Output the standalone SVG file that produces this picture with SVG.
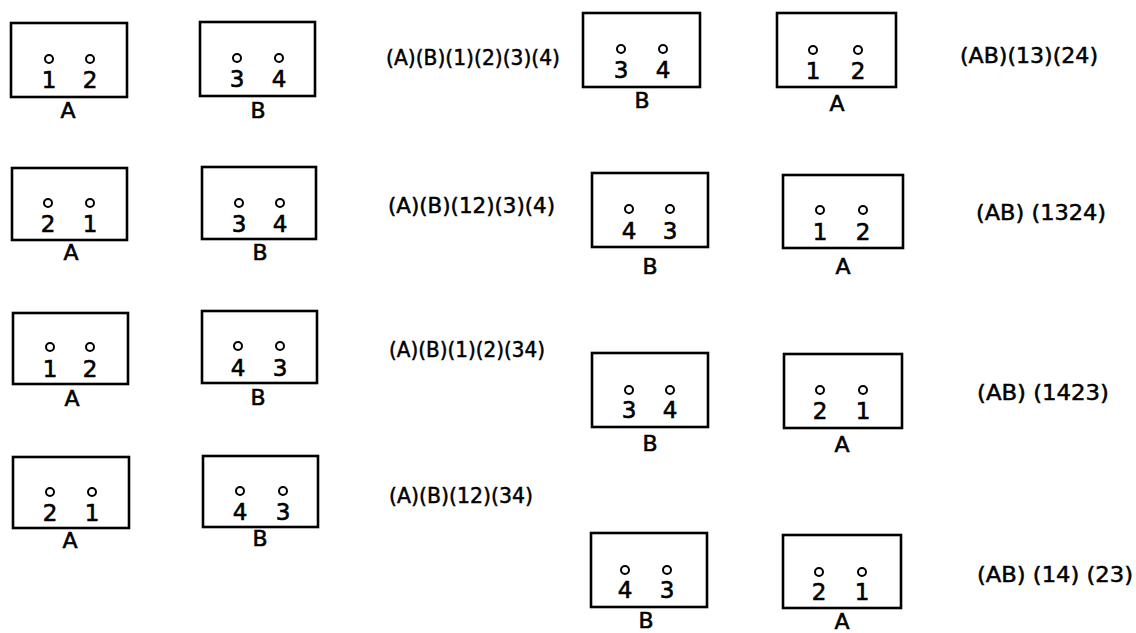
<svg xmlns="http://www.w3.org/2000/svg" width="1136" height="633" viewBox="0 0 1136 633">
<style>
.box{fill:none;stroke:#000;stroke-width:2.6}
.pin{fill:#fff;stroke:#000;stroke-width:2}
.num{font-family:"DejaVu Sans",sans-serif;font-size:23px;text-anchor:middle;fill:#000;stroke:#000;stroke-width:0.6}
.lbl{font-family:"DejaVu Sans",sans-serif;font-size:22px;text-anchor:middle;fill:#000;stroke:#000;stroke-width:0.6}
.fml{font-family:"DejaVu Sans",sans-serif;font-size:21px;fill:#000;stroke:#000;stroke-width:0.5}
</style>
<rect width="1136" height="633" fill="#fff"/>
<g id="r1A"><rect class="box" x="11" y="23" width="116" height="74"/><circle class="pin" cx="49" cy="59" r="4"/><circle class="pin" cx="90" cy="59" r="4"/><text class="num" x="49" y="88">1</text><text class="num" x="90" y="88">2</text><text class="lbl" x="68" y="118">A</text></g>
<g id="r1B"><rect class="box" x="200" y="22" width="115" height="74"/><circle class="pin" cx="237" cy="58" r="4"/><circle class="pin" cx="279" cy="58" r="4"/><text class="num" x="237" y="87">3</text><text class="num" x="279" y="87">4</text><text class="lbl" x="258" y="118">B</text></g>
<g id="r2A"><rect class="box" x="12" y="168" width="115" height="72"/><circle class="pin" cx="48" cy="203" r="4"/><circle class="pin" cx="90" cy="203" r="4"/><text class="num" x="48" y="232">2</text><text class="num" x="90" y="232">1</text><text class="lbl" x="71" y="260">A</text></g>
<g id="r2B"><rect class="box" x="202" y="167" width="114" height="72"/><circle class="pin" cx="239" cy="203" r="4"/><circle class="pin" cx="280" cy="203" r="4"/><text class="num" x="239" y="232">3</text><text class="num" x="280" y="232">4</text><text class="lbl" x="260" y="260">B</text></g>
<g id="r3A"><rect class="box" x="13" y="313" width="115" height="71"/><circle class="pin" cx="50" cy="347" r="4"/><circle class="pin" cx="90" cy="347" r="4"/><text class="num" x="50" y="377">1</text><text class="num" x="90" y="377">2</text><text class="lbl" x="72" y="406">A</text></g>
<g id="r3B"><rect class="box" x="202" y="311" width="115" height="72"/><circle class="pin" cx="238" cy="346" r="4"/><circle class="pin" cx="280" cy="346" r="4"/><text class="num" x="238" y="376">4</text><text class="num" x="280" y="376">3</text><text class="lbl" x="258" y="405">B</text></g>
<g id="r4A"><rect class="box" x="13" y="457" width="116" height="71"/><circle class="pin" cx="50" cy="492" r="4"/><circle class="pin" cx="92" cy="492" r="4"/><text class="num" x="50" y="521">2</text><text class="num" x="92" y="521">1</text><text class="lbl" x="70" y="548">A</text></g>
<g id="r4B"><rect class="box" x="203" y="456" width="115" height="71"/><circle class="pin" cx="240" cy="491" r="4"/><circle class="pin" cx="283" cy="491" r="4"/><text class="num" x="240" y="520">4</text><text class="num" x="283" y="520">3</text><text class="lbl" x="260" y="546">B</text></g>
<g id="R1B"><rect class="box" x="583" y="13" width="117" height="74"/><circle class="pin" cx="621" cy="49" r="4"/><circle class="pin" cx="663" cy="49" r="4"/><text class="num" x="621" y="78">3</text><text class="num" x="663" y="78">4</text><text class="lbl" x="642" y="108">B</text></g>
<g id="R1A"><rect class="box" x="777" y="13" width="119" height="74"/><circle class="pin" cx="813" cy="50" r="4"/><circle class="pin" cx="858" cy="50" r="4"/><text class="num" x="813" y="79">1</text><text class="num" x="858" y="79">2</text><text class="lbl" x="837" y="111">A</text></g>
<g id="R2B"><rect class="box" x="592" y="173" width="116" height="74"/><circle class="pin" cx="629" cy="209" r="4"/><circle class="pin" cx="670" cy="209" r="4"/><text class="num" x="629" y="239">4</text><text class="num" x="670" y="239">3</text><text class="lbl" x="650" y="274">B</text></g>
<g id="R2A"><rect class="box" x="783" y="175" width="120" height="73"/><circle class="pin" cx="820" cy="210" r="4"/><circle class="pin" cx="863" cy="210" r="4"/><text class="num" x="820" y="240">1</text><text class="num" x="863" y="240">2</text><text class="lbl" x="843" y="274">A</text></g>
<g id="R3B"><rect class="box" x="592" y="353" width="116" height="74"/><circle class="pin" cx="629" cy="390" r="4"/><circle class="pin" cx="670" cy="390" r="4"/><text class="num" x="629" y="418">3</text><text class="num" x="670" y="418">4</text><text class="lbl" x="650" y="451">B</text></g>
<g id="R3A"><rect class="box" x="784" y="354" width="118" height="74"/><circle class="pin" cx="820" cy="390" r="4"/><circle class="pin" cx="863" cy="390" r="4"/><text class="num" x="820" y="419">2</text><text class="num" x="863" y="419">1</text><text class="lbl" x="842" y="452">A</text></g>
<g id="R4B"><rect class="box" x="591" y="533" width="116" height="74"/><circle class="pin" cx="625" cy="570" r="4"/><circle class="pin" cx="667" cy="570" r="4"/><text class="num" x="625" y="598">4</text><text class="num" x="667" y="598">3</text><text class="lbl" x="646" y="628">B</text></g>
<g id="R4A"><rect class="box" x="783" y="535" width="118" height="73"/><circle class="pin" cx="819" cy="572" r="4"/><circle class="pin" cx="862" cy="572" r="4"/><text class="num" x="819" y="600">2</text><text class="num" x="862" y="600">1</text><text class="lbl" x="842" y="629">A</text></g>
<g id="formulas">
<text class="fml" x="386" y="65" textLength="174" lengthAdjust="spacingAndGlyphs">(A)(B)(1)(2)(3)(4)</text>
<text class="fml" x="388" y="213" textLength="167" lengthAdjust="spacingAndGlyphs">(A)(B)(12)(3)(4)</text>
<text class="fml" x="389" y="357" textLength="156" lengthAdjust="spacingAndGlyphs">(A)(B)(1)(2)(34)</text>
<text class="fml" x="389" y="503" textLength="144" lengthAdjust="spacingAndGlyphs">(A)(B)(12)(34)</text>
<text class="fml" x="960" y="63" textLength="138" lengthAdjust="spacingAndGlyphs">(AB)(13)(24)</text>
<text class="fml" x="976" y="220" textLength="130" lengthAdjust="spacingAndGlyphs">(AB) (1324)</text>
<text class="fml" x="977" y="400" textLength="132" lengthAdjust="spacingAndGlyphs">(AB) (1423)</text>
<text class="fml" x="977" y="582" textLength="156" lengthAdjust="spacingAndGlyphs">(AB) (14) (23)</text>
</g>
</svg>
